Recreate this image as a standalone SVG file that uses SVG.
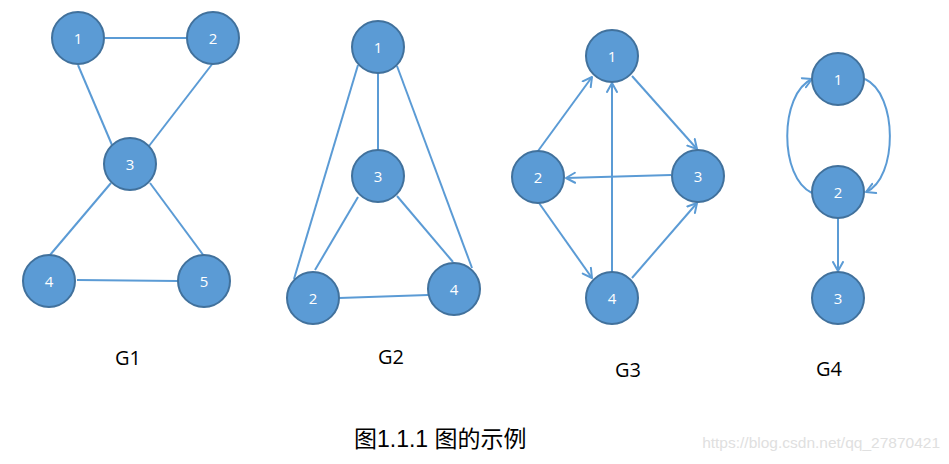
<svg xmlns="http://www.w3.org/2000/svg" width="949" height="464" viewBox="0 0 949 464">
<style>
.e{stroke:#5b9bd5;stroke-width:2;fill:none}
.a{marker-end:url(#arr)}
.n circle{fill:#5b9bd5;stroke:#41719c;stroke-width:2}
.n text{fill:#fff;font-family:"Open Sans","Noto Sans",sans-serif;font-size:15px;text-anchor:middle}
.g{fill:#000;font-family:"Open Sans","Noto Sans",sans-serif;font-size:20px;text-anchor:middle}
</style>
<defs>
<marker id="arr" markerUnits="userSpaceOnUse" markerWidth="14" markerHeight="14" refX="10" refY="6" orient="auto" viewBox="0 0 14 12">
<path d="M1,1 L10,6 L1,11" fill="none" stroke="#5b9bd5" stroke-width="2" stroke-linecap="round" stroke-linejoin="round"/>
</marker>
</defs>
<rect width="949" height="464" fill="#fff"/>
<g id="connectors">
<!-- G1 -->
<line class="e" x1="105" y1="38" x2="187" y2="38"/>
<line class="e" x1="78" y1="65" x2="112" y2="145"/>
<line class="e" x1="213" y1="63" x2="149" y2="146"/>
<line class="e" x1="111" y1="183" x2="50" y2="255"/>
<line class="e" x1="150" y1="183" x2="204" y2="256"/>
<line class="e" x1="77" y1="280" x2="178" y2="281"/>
<!-- G2 -->
<line class="e" x1="378" y1="73" x2="378" y2="150"/>
<line class="e" x1="358" y1="65" x2="294" y2="279"/>
<line class="e" x1="397" y1="66" x2="472" y2="268"/>
<line class="e" x1="358" y1="197" x2="315" y2="270"/>
<line class="e" x1="397" y1="196" x2="453" y2="262"/>
<line class="e" x1="339" y1="298" x2="428" y2="295"/>
<!-- G3 -->
<line class="e a" x1="538" y1="151" x2="592" y2="77"/>
<line class="e a" x1="632" y1="76" x2="697" y2="149"/>
<line class="e a" x1="671" y1="175" x2="566" y2="178"/>
<line class="e a" x1="612" y1="272" x2="612" y2="83"/>
<line class="e a" x1="539" y1="203" x2="592" y2="278"/>
<line class="e a" x1="632" y1="278" x2="697" y2="203"/>
<!-- G4 -->
<path class="e a" d="M812,193 C779,178 779,94 812,79"/>
<path class="e a" d="M865,79 C898,94 898,178 866,192"/>
<line class="e a" x1="838" y1="218" x2="838" y2="271"/>
</g>
<g id="g1-n1" class="n"><circle cx="78" cy="38" r="26"/><text x="78" y="44">1</text></g>
<g id="g1-n2" class="n"><circle cx="213" cy="38" r="26"/><text x="213" y="44">2</text></g>
<g id="g1-n3" class="n"><circle cx="130" cy="164" r="26"/><text x="130" y="170">3</text></g>
<g id="g1-n4" class="n"><circle cx="49" cy="281" r="26"/><text x="49" y="287">4</text></g>
<g id="g1-n5" class="n"><circle cx="204" cy="281" r="26"/><text x="204" y="287">5</text></g>

<g id="g2-n1" class="n"><circle cx="378" cy="47" r="26"/><text x="378" y="53">1</text></g>
<g id="g2-n3" class="n"><circle cx="378" cy="176" r="26"/><text x="378" y="182">3</text></g>
<g id="g2-n2" class="n"><circle cx="313" cy="298" r="26"/><text x="313" y="304">2</text></g>
<g id="g2-n4" class="n"><circle cx="454" cy="289" r="26"/><text x="454" y="295">4</text></g>

<g id="g3-n1" class="n"><circle cx="612" cy="56" r="26"/><text x="612" y="62">1</text></g>
<g id="g3-n2" class="n"><circle cx="538" cy="177" r="26"/><text x="538" y="183">2</text></g>
<g id="g3-n3" class="n"><circle cx="698" cy="176" r="26"/><text x="698" y="182">3</text></g>
<g id="g3-n4" class="n"><circle cx="612" cy="298" r="26"/><text x="612" y="304">4</text></g>

<g id="g4-n1" class="n"><circle cx="838" cy="79" r="26"/><text x="838" y="85">1</text></g>
<g id="g4-n2" class="n"><circle cx="838" cy="192" r="26"/><text x="838" y="198">2</text></g>
<g id="g4-n3" class="n"><circle cx="838" cy="298" r="26"/><text x="838" y="304">3</text></g>

<g id="labels">
<text class="g" x="128" y="365">G1</text>
<text class="g" x="391" y="364">G2</text>
<text class="g" x="628" y="377">G3</text>
<text class="g" x="829" y="376">G4</text>
<text x="354" y="447" font-family="'Liberation Sans','Noto Sans CJK SC',sans-serif" font-size="23" fill="#000">图1.1.1 图的示例</text>
<text x="940" y="448" text-anchor="end" font-family="'Liberation Sans',sans-serif" font-size="15.5" fill="#e0e0e0">https://blog.csdn.net/qq_27870421</text>
</g>
</svg>
